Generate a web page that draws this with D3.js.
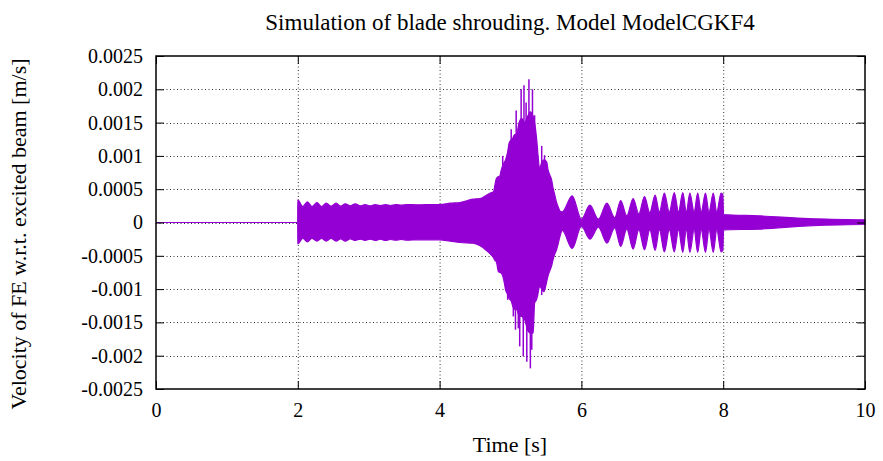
<!DOCTYPE html>
<html lang="en">
<head>
<meta charset="UTF-8">
<title>Simulation of blade shrouding</title>
<style>
  body { margin: 0; background: #fff; }
  svg text { font-family: "Liberation Serif", "Times New Roman", serif; fill: #000; }
  .tick line { stroke: #000; stroke-width: 1; }
</style>
</head>
<body>
<div id="chart"></div>
<script src="https://cdn.jsdelivr.net/npm/d3@7"></script>
<script>
// ticks
const xTicks = [0, 2, 4, 6, 8, 10];
const yTicks = [-0.0025, -0.002, -0.0015, -0.001, -0.0005, 0, 0.0005, 0.001, 0.0015, 0.002, 0.0025];
const yTickLabels = ["-0.0025", "-0.002", "-0.0015", "-0.001", "-0.0005", "0",
                     "0.0005", "0.001", "0.0015", "0.002", "0.0025"];

// envelope of the velocity signal
const times = [0, 1.999, 2.0, 2.07, 2.135, 2.20, 2.27, 2.335, 2.40, 2.47, 2.54, 2.605, 2.67, 2.74,
  2.81, 2.88, 2.95, 3.02, 3.09, 3.165, 3.24, 3.31, 3.38, 3.46, 3.54, 3.7, 3.9, 4.0, 4.15, 4.29,
  4.47, 4.57, 4.66, 4.73, 4.76, 4.78, 4.80, 4.83, 4.85, 4.87, 4.91, 4.93, 4.96, 4.98, 5.01, 5.03,
  5.05, 5.09, 5.12, 5.16, 5.20, 5.24, 5.28, 5.32, 5.34, 5.37, 5.39, 5.41, 5.44, 5.47, 5.51, 5.53,
  5.56, 5.58, 5.60, 5.63, 5.65, 5.67, 5.70, 5.73, 5.87, 6.0, 6.12, 6.24, 6.36, 6.47, 6.555, 6.64,
  6.73, 6.81, 6.89, 6.965, 7.04, 7.10, 7.17, 7.24, 7.31, 7.37, 7.43, 7.48, 7.53, 7.59, 7.64, 7.69,
  7.75, 7.80, 7.86, 7.91, 7.97, 7.995, 8.005, 8.5, 9.2, 10];
const upper = [0, 0, 0.00034, 0.00024, 0.00031, 0.00024, 0.00030, 0.00024, 0.00029, 0.000245,
  0.00029, 0.000245, 0.00028, 0.00025, 0.00028, 0.00025, 0.00027, 0.00025, 0.00027, 0.000255,
  0.00027, 0.000255, 0.00027, 0.00026, 0.00027, 0.000265, 0.00027, 0.00027, 0.00029, 0.0003,
  0.00035, 0.00036, 0.00041, 0.00045, 0.00046, 0.00056, 0.00066, 0.00069, 0.0007, 0.00079,
  0.0009, 0.00094, 0.00106, 0.00119, 0.00124, 0.00126, 0.00131, 0.00134, 0.0015, 0.00156,
  0.0015, 0.00159, 0.00166, 0.00159, 0.0015, 0.00124, 0.00099, 0.00081, 0.0009, 0.00094,
  0.00091, 0.00079, 0.0007, 0.00064, 0.00052, 0.00039, 0.0003, 0.00024, 0.00017, 0.00016,
  0.0004, 0.00005, 0.00026, 0.00005, 0.00029, 0.00007, 0.00033, 0.0001, 0.00036, 0.00013,
  0.00039, 0.00015, 0.00041, 0.00016, 0.00044, 0.00016, 0.00045, 0.00016, 0.00045, 0.00016,
  0.00044, 0.00016, 0.00044, 0.00016, 0.00044, 0.00016, 0.00044, 0.00016, 0.00044, 0.00042,
  0.00012, 0.0001, 0.00006, 0.00004];
const lower = [0, 0, -0.00032, -0.00024, -0.00029, -0.00024, -0.00028, -0.00024, -0.00028,
  -0.00024, -0.00028, -0.000245, -0.00028, -0.000245, -0.00027, -0.00025, -0.00027, -0.00025,
  -0.00027, -0.00025, -0.00027, -0.000255, -0.000265, -0.000255, -0.000265, -0.00026, -0.00026,
  -0.00026, -0.00028, -0.0003, -0.00031, -0.00035, -0.00042, -0.00049, -0.00053, -0.00057,
  -0.00059, -0.00074, -0.00075, -0.00076, -0.00089, -0.00101, -0.00108, -0.00114, -0.00118,
  -0.00125, -0.0013, -0.00131, -0.0014, -0.00141, -0.00146, -0.00161, -0.00166, -0.00166,
  -0.00121, -0.00115, -0.00105, -0.00096, -0.001, -0.00104, -0.00089, -0.0008, -0.00071,
  -0.00065, -0.00056, -0.00046, -0.00041, -0.00033, -0.0002, -0.00012, -0.00039, -0.00006,
  -0.00025, -0.00007, -0.00031, -0.00008, -0.00036, -0.0001, -0.0004, -0.00011, -0.00041,
  -0.00011, -0.00042, -0.00011, -0.00044, -0.00011, -0.00044, -0.00011, -0.00045, -0.00011,
  -0.00045, -0.00011, -0.00045, -0.00011, -0.00045, -0.00011, -0.00045, -0.00011, -0.00044,
  -0.00042, -0.00011, -0.0001, -0.00005, -0.00003];

// isolated peaks sticking out of the envelope during the burst
const spikeTimes = [4.89, 5.01, 5.08, 5.15, 5.19, 5.22, 5.26, 5.31, 5.34, 5.44, 5.48,
                    4.96, 5.04, 5.07, 5.11, 5.13, 5.18, 5.23, 5.28, 5.30, 5.38, 5.44];
const spikeValues = [0.001, 0.0014, 0.00168, 0.002, 0.00206, 0.0018, 0.00215, 0.002, 0.00161, 0.00115, 0.00101,
                     -0.00116, -0.00141, -0.00161, -0.00159, -0.00186, -0.00201, -0.00209, -0.00219, -0.00191, -0.00111, -0.00109];

const W = 883, H = 461;
const pLeft = 156, pRight = 865, pTop = 56, pBottom = 389;
const color = "#9400d3";

const svg = d3.select("#chart").append("svg")
  .attr("width", W).attr("height", H);

const x = d3.scaleLinear().domain([0, 10]).range([pLeft, pRight]);
const y = d3.scaleLinear().domain([-0.0025, 0.0025]).range([pBottom, pTop]);

// grid
const grid = svg.append("g")
  .attr("stroke", "#333").attr("stroke-width", 1).attr("stroke-dasharray", "1,2.5");
grid.selectAll(".gx").data(xTicks.slice(1, -1)).join("line")
  .attr("x1", d => x(d) + 0.5).attr("x2", d => x(d) + 0.5)
  .attr("y1", pTop).attr("y2", pBottom);
grid.selectAll(".gy").data(yTicks.slice(1, -1)).join("line")
  .attr("x1", pLeft).attr("x2", pRight)
  .attr("y1", d => Math.round(y(d)) + 0.5).attr("y2", d => Math.round(y(d)) + 0.5);

// signal envelope
const pts = times.map((t, i) => ({t: t, hi: upper[i], lo: lower[i]}));
const area = d3.area()
  .x(d => x(d.t))
  .y0(d => y(d.lo))
  .y1(d => y(d.hi))
  .curve(d3.curveMonotoneX);
svg.append("path")
  .attr("d", area(pts))
  .attr("fill", color)
  .attr("stroke", color)
  .attr("stroke-width", 1.2);

svg.append("g").selectAll("line")
  .data(spikeTimes.map((t, i) => ({t: t, v: spikeValues[i]})))
  .join("line")
  .attr("x1", d => x(d.t)).attr("x2", d => x(d.t))
  .attr("y1", y(0)).attr("y2", d => y(d.v))
  .attr("stroke", color).attr("stroke-width", 1.5);

// axes with inward ticks, mirrored
const fmt = d => yTickLabels[yTicks.indexOf(d)];
svg.append("g").attr("transform", `translate(${pLeft},0)`)
  .call(d3.axisLeft(y).tickValues(yTicks).tickFormat(fmt).tickSize(-8).tickPadding(13).tickSizeOuter(0))
  .call(g => g.select(".domain").remove())
  .selectAll("text").style("font-size", "20px");
svg.append("g").attr("transform", `translate(${pRight},0)`)
  .call(d3.axisRight(y).tickValues(yTicks).tickFormat("").tickSize(-8).tickSizeOuter(0))
  .call(g => g.select(".domain").remove());
svg.append("g").attr("transform", `translate(0,${pBottom})`)
  .call(d3.axisBottom(x).tickValues(xTicks).tickFormat(d3.format("d")).tickSize(-8).tickPadding(14).tickSizeOuter(0))
  .call(g => g.select(".domain").remove())
  .selectAll("text").style("font-size", "20px");
svg.append("g").attr("transform", `translate(0,${pTop})`)
  .call(d3.axisTop(x).tickValues(xTicks).tickFormat("").tickSize(-8).tickSizeOuter(0))
  .call(g => g.select(".domain").remove());

// border
svg.append("rect")
  .attr("x", pLeft).attr("y", pTop)
  .attr("width", pRight - pLeft).attr("height", pBottom - pTop)
  .attr("fill", "none").attr("stroke", "#000").attr("stroke-width", 1.5);

// labels
svg.append("text")
  .attr("x", 510).attr("y", 30)
  .attr("text-anchor", "middle").style("font-size", "23px")
  .text("Simulation of blade shrouding. Model ModelCGKF4");
svg.append("text")
  .attr("x", 510).attr("y", 452)
  .attr("text-anchor", "middle").style("font-size", "22px")
  .text("Time [s]");
svg.append("text")
  .attr("transform", "translate(26,234) rotate(-90)")
  .attr("text-anchor", "middle").style("font-size", "22px")
  .text("Velocity of FE w.r.t. excited beam [m/s]");
</script>
</body>
</html>
